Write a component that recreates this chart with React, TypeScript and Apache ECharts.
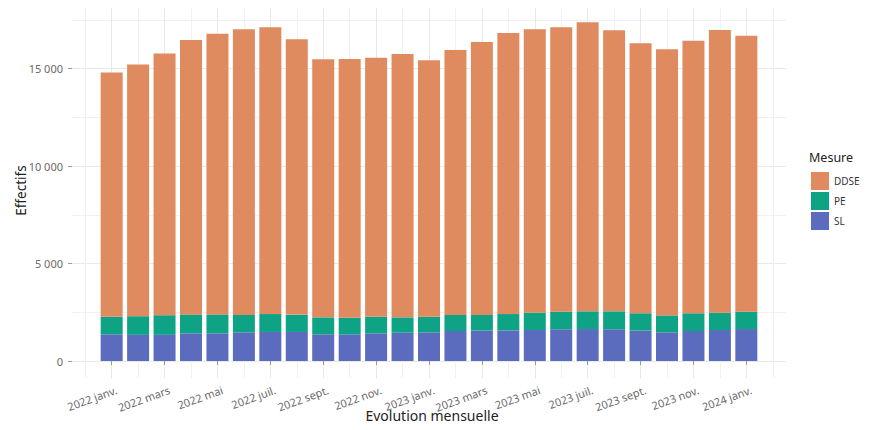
import React, { useEffect, useRef } from "react";
import * as echarts from "echarts";

// ---- data ----
const months = [
  "2022 janv.", "2022 févr.", "2022 mars", "2022 avr.", "2022 mai", "2022 juin",
  "2022 juil.", "2022 août", "2022 sept.", "2022 oct.", "2022 nov.", "2022 déc.",
  "2023 janv.", "2023 févr.", "2023 mars", "2023 avr.", "2023 mai", "2023 juin",
  "2023 juil.", "2023 août", "2023 sept.", "2023 oct.", "2023 nov.", "2023 déc.",
  "2024 janv.",
];
const SL = [1370, 1340, 1340, 1420, 1420, 1470, 1490, 1490, 1370, 1370, 1420, 1450, 1470, 1540, 1560, 1570, 1590, 1630, 1640, 1630, 1560, 1470, 1540, 1590, 1640];
const PE = [900, 960, 1010, 970, 970, 890, 920, 890, 870, 850, 850, 790, 800, 820, 800, 840, 890, 900, 910, 920, 890, 870, 910, 890, 890];
const DDSE = [12530, 12920, 13430, 14080, 14400, 14660, 14720, 14130, 13240, 13280, 13290, 13520, 13170, 13600, 14010, 14420, 14550, 14600, 14840, 14430, 13860, 13660, 13980, 14510, 14160];
const yTickValues = [0, 5000, 10000, 15000];
const seriesNames = ["DDSE", "PE", "SL"];

const COLORS: Record<string, string> = { DDSE: "#E08A60", PE: "#0FA386", SL: "#5B6BBE" };
const FONT = "'Noto Sans', 'Open Sans', sans-serif";

export default function App() {
  const ref = useRef<HTMLDivElement>(null);
  useEffect(() => {
    if (!ref.current) return;
    const chart = echarts.init(ref.current, undefined, { renderer: "svg" });
    // pad one empty month on each side
    const cats = ["", ...months, ""];
    const pad = (arr: number[]) => [null, ...arr, null];
    const labelShown = (i: number) => i >= 1 && i <= months.length && (i - 1) % 2 === 0;
    const fmt = (v: number) => String(v).replace(/\B(?=(\d{3})+(?!\d))/g, " ");

    // layout: value 0 at y=361, 17500 at y=20, panel 5..378
    const y0 = 361, yTop = 20, yMaxVal = 17500, panelTop = 5, panelBottom = 378;
    const k = (y0 - yTop) / yMaxVal;
    const left = 72, right = 86, labShift = 3;
    const H = 430;

    chart.setOption({
      animation: false,
      textStyle: { fontFamily: FONT },
      grid: [
        { left, right, top: panelTop, bottom: H - panelBottom },
        { left, right, top: yTop, bottom: H - y0 },
        { left, right, top: y0 - yTickValues[yTickValues.length - 1] * k, bottom: H - y0 },
        { left: left + labShift, right: right - labShift, top: yTop, bottom: H - y0 },
      ],
      xAxis: [
        {
          gridIndex: 1,
          type: "category",
          data: cats,
          boundaryGap: true,
          offset: panelBottom - y0,
          axisLine: { show: false },
          axisTick: { show: true, alignWithLabel: true, length: 4, interval: (i: number) => labelShown(i), lineStyle: { color: "#9a9a9a" } },
          axisLabel: { show: false },
          splitLine: { show: false },
        },
        {
          gridIndex: 0,
          type: "value",
          position: "top",
          min: -1.5,
          max: 25.5,
          interval: 0.5,
          axisLine: { show: false },
          axisTick: { show: false },
          axisLabel: { show: false },
          splitLine: { show: true, lineStyle: { width: 1, color: ["transparent", "#f1f1f1", "transparent", "#e9e9e9"] } },
        },
        { gridIndex: 2, type: "value", show: false, min: 0, max: 1 },
        {
          gridIndex: 3,
          type: "category",
          data: cats,
          boundaryGap: true,
          offset: panelBottom - y0,
          axisLine: { show: false },
          axisTick: { show: false },
          axisLabel: { interval: (i: number) => labelShown(i), rotate: 20, fontSize: 11, color: "#6a6a6a", margin: 6, verticalAlign: "top", fontFamily: FONT },
          splitLine: { show: false },
          name: "Evolution mensuelle",
          nameLocation: "middle",
          nameGap: 30,
          nameMoveOverlap: false,
          nameTextStyle: { fontSize: 14, color: "#222", fontFamily: FONT },
        },
      ],
      yAxis: [
        { gridIndex: 0, type: "value", show: false, min: 0, max: 1 },
        {
          gridIndex: 1,
          type: "value",
          min: 0,
          max: yMaxVal,
          interval: 2500,
          axisLine: { show: false },
          axisTick: { show: false },
          axisLabel: { show: false },
          splitLine: { show: true, lineStyle: { width: 1, color: ["#e9e9e9", "#f1f1f1"] } },
          name: "Effectifs",
          nameLocation: "middle",
          nameGap: 44,
          nameMoveOverlap: false,
          nameTextStyle: { fontSize: 13.5, color: "#222", fontFamily: FONT },
        },
        {
          gridIndex: 2,
          type: "value",
          min: yTickValues[0],
          max: yTickValues[yTickValues.length - 1],
          interval: yTickValues[1] - yTickValues[0],
          axisLine: { show: false },
          axisTick: { show: true, length: 4, lineStyle: { color: "#9a9a9a" } },
          axisLabel: { formatter: (v: number) => fmt(v), fontSize: 11, color: "#6a6a6a", margin: 9, fontFamily: FONT },
          splitLine: { show: false },
        },
        { gridIndex: 3, type: "value", show: false, min: 0, max: 1 },
      ],
      legend: {
        orient: "vertical",
        left: 811,
        top: 172,
        padding: 0,
        itemWidth: 18,
        itemHeight: 18,
        itemGap: 2,
        icon: "rect",
        selectedMode: false,
        data: seriesNames,
        textStyle: { fontSize: 10, color: "#333", fontFamily: FONT },
      },
      graphic: [
        {
          type: "text",
          left: 809,
          top: 151,
          style: { text: "Mesure", fontSize: 12.5, fill: "#222", fontFamily: FONT },
        },
      ],
      series: [
        { name: "SL", type: "bar", stack: "t", xAxisIndex: 0, yAxisIndex: 1, data: pad(SL), barWidth: 22, itemStyle: { color: COLORS.SL } },
        { name: "PE", type: "bar", stack: "t", xAxisIndex: 0, yAxisIndex: 1, data: pad(PE), barWidth: 22, itemStyle: { color: COLORS.PE } },
        { name: "DDSE", type: "bar", stack: "t", xAxisIndex: 0, yAxisIndex: 1, data: pad(DDSE), barWidth: 22, itemStyle: { color: COLORS.DDSE } },
      ],
    });
    return () => chart.dispose();
  }, []);
  return <div ref={ref} style={{ width: 872, height: 430, margin: -8 }} />;
}
